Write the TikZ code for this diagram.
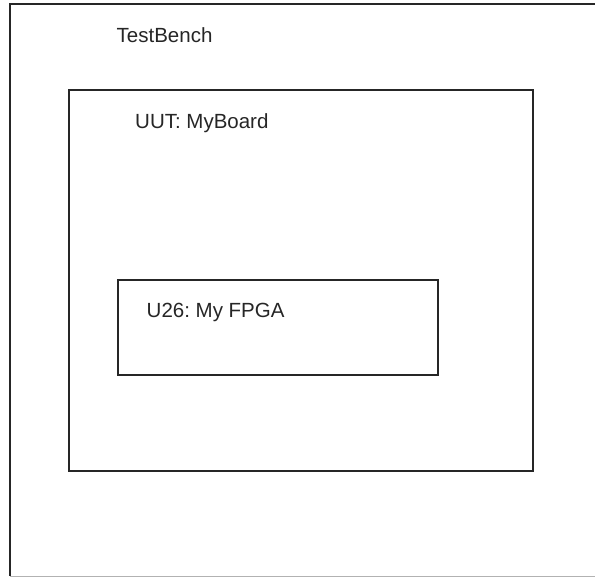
\documentclass[tikz,border=0pt]{standalone}
\usepackage{fontspec}
\setmainfont{Liberation Sans}
\frenchspacing
\begin{document}
\begin{tikzpicture}[x=1pt,y=-1pt,
  box/.style={draw=black!85,line width=2pt},
  lbl/.style={anchor=base west,inner sep=0pt,font=\fontsize{20.5}{24}\selectfont,text=black!85}]
\useasboundingbox (0,0) rectangle (595,577);
\fill[white] (0,0) rectangle (595,577);
\draw[box] (596,4.5) -- (10,4.5) -- (10,576);
\draw[draw=black!30,line width=1pt] (10,576) -- (596,576);
\node[lbl] (tb) at (116.5,42.7) {TestBench};
\draw[box] (68.5,90.5) rectangle (532.5,471);
\node[lbl] (uut) at (135,128.3) {UUT: MyBoard};
\draw[box] (118,280) rectangle (437.5,375.5);
\node[lbl] (u26) at (146.5,318) {U26: My FPGA};
\end{tikzpicture}
\end{document}
